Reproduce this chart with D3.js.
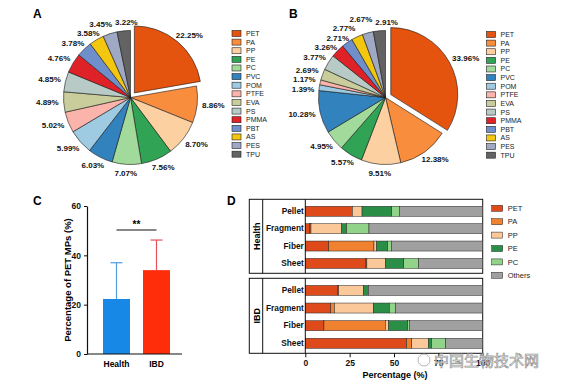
<!DOCTYPE html>
<html>
<head>
<meta charset="utf-8">
<script src="https://cdn.jsdelivr.net/npm/d3@7"></script>
<style>
  body { margin: 0; background: #fff; }
  svg { display: block; font-family: Arial, "Liberation Sans", Helvetica, sans-serif; }
  .panel-tag { font-size: 12px; font-weight: bold; }
  .pie-label { font-size: 8px; font-weight: bold; fill: #111; }
  .legend-label { font-size: 7px; fill: #222; }
  .axis text { font-size: 8.5px; font-weight: bold; fill: #111; }
  .axis path, .axis line { stroke: #111; }
</style>
</head>
<body>
<div id="chart"></div>
<script>
// ---- data ----
const polymerTypes = ['PET', 'PA', 'PP', 'PE', 'PC', 'PVC', 'POM', 'PTFE', 'EVA', 'PS', 'PMMA', 'PBT', 'AS', 'PES', 'TPU'];
const healthShares = [22.25, 8.86, 8.70, 7.56, 7.07, 6.03, 5.99, 5.02, 4.89, 4.85, 4.76, 3.78, 3.58, 3.45, 3.22];
const ibdShares = [33.96, 12.38, 9.51, 5.57, 4.95, 10.28, 1.39, 1.17, 2.69, 3.77, 3.26, 2.71, 2.77, 2.67, 2.91];

const groups = ['Health', 'IBD'];
const petMean = [22.3, 34.0];
const petSd = [14.7, 12.2];
const petTicks = [0, 20, 40, 60];

const shapes = ['Pellet', 'Fragment', 'Fiber', 'Sheet'];
const stackTypes = ['PET', 'PA', 'PP', 'PE', 'PC', 'Others'];
// one row per shape, values in stackTypes order
const healthPellet = [26.5, 0, 5.5, 16.7, 4.3, 47.0];
const healthFragment = [2.6, 0.6, 17.3, 2.8, 12.6, 64.1];
const healthFiber = [13.2, 25.5, 1.5, 6.2, 2.1, 51.5];
const healthSheet = [34.2, 0.5, 10.4, 10.4, 8.4, 36.1];
const ibdPellet = [18.2, 0.6, 13.9, 2.8, 0, 64.5];
const ibdFragment = [14.3, 2.1, 21.9, 9.1, 3.4, 49.2];
const ibdFiber = [10.5, 34.6, 1.9, 10.7, 0.9, 41.4];
const ibdSheet = [57.1, 2.9, 9.4, 1.8, 7.9, 20.9];
const pctTicks = [0, 25, 50, 75, 100];

// ---- styling ----
const pieColors = ['#e5540f', '#f98d3e', '#fdd0a2', '#30a354', '#a2da9b', '#3282bd', '#9ecae2',
  '#fbb4ab', '#c9cc9b', '#b7cac6', '#de2228', '#6e8fcb', '#f3c60f', '#9fa9c4', '#636363'];
const stackColors = ['#df4a1b', '#f0812e', '#fbc89a', '#2a8e46', '#92d38a', '#a0a0a0'];

const width = 568, height = 386;
const svg = d3.select('#chart').append('svg')
  .attr('width', width).attr('height', height)
  .attr('viewBox', [0, 0, width, height]);

svg.append('text').attr('class', 'panel-tag').attr('x', 33).attr('y', 18).text('A');
svg.append('text').attr('class', 'panel-tag').attr('x', 289).attr('y', 18).text('B');
svg.append('text').attr('class', 'panel-tag').attr('x', 33).attr('y', 205).text('C');
svg.append('text').attr('class', 'panel-tag').attr('x', 227).attr('y', 205).text('D');

// ---------- pies (A, B) ----------
function drawPie(shares, cx, cy, legendX, legendY) {
  const r = 67, labelR = 72, explode = 6;
  const g = svg.append('g');
  const arcs = d3.pie().sort(null).value(d => d.v)(shares.map((v, i) => ({ type: polymerTypes[i], v })));
  const arc = d3.arc().innerRadius(0).outerRadius(r);
  const mid = a => (a.startAngle + a.endAngle) / 2;

  g.selectAll('path')
    .data(arcs)
    .join('path')
      .attr('d', arc)
      .attr('transform', (a, i) => {
        const off = i === 0 ? explode : 0;
        return `translate(${cx + Math.sin(mid(a)) * off},${cy - Math.cos(mid(a)) * off})`;
      })
      .attr('fill', (a, i) => pieColors[i])
      .attr('stroke', '#1a1a1a')
      .attr('stroke-width', 0.6);

  const labels = g.selectAll('text.pie-label')
    .data(arcs)
    .join('text')
      .attr('class', 'pie-label')
      .attr('text-anchor', 'middle')
      .attr('dy', '0.35em')
      .text(a => a.data.v.toFixed(2) + '%');

  // place each label just outside its slice, then nudge crowded ones apart
  const pos = [];
  labels.each(function (a, i) {
    const w = this.getComputedTextLength(), h = 8;
    const s = Math.sin(mid(a)), c = Math.cos(mid(a));
    const rr = labelR + (i === 0 ? explode : 0);
    pos.push({ node: this, s, c, w, x: cx + rr * s + s * w / 2, y: cy - rr * c - c * h / 2 });
  });
  for (let k = 0; k < 40; k++) {
    // labels near the top: spread sideways
    const row = pos.filter(p => p.c > 0.88).sort((a, b) => a.x - b.x);
    for (let i = 1; i < row.length; i++) {
      const need = (row[i].w + row[i - 1].w) / 2 + 3;
      const gap = row[i].x - row[i - 1].x;
      if (gap < need && Math.abs(row[i].y - row[i - 1].y) < 6.5) {
        row[i].x += (need - gap) / 2;
        row[i - 1].x -= (need - gap) / 2;
      }
    }
    // anything else still touching: spread vertically
    const col = pos.slice().sort((a, b) => a.y - b.y);
    for (let i = 0; i < col.length; i++) {
      for (let j = i + 1; j < col.length; j++) {
        const a = col[i], b = col[j];
        const dx = Math.abs(a.x - b.x), dy = b.y - a.y;
        if (dx < (a.w + b.w) / 2 + 2 && dy < 9.5) {
          a.y -= (9.5 - dy) / 2;
          b.y += (9.5 - dy) / 2;
        }
      }
    }
  }
  pos.forEach(p => d3.select(p.node).attr('x', p.x).attr('y', p.y));

  const step = 8.62;
  const leg = g.selectAll('g.leg')
    .data(polymerTypes)
    .join('g')
      .attr('class', 'leg')
      .attr('transform', (d, i) => `translate(${legendX},${legendY + i * step})`);
  leg.append('rect')
    .attr('x', 0).attr('y', -3).attr('width', 9).attr('height', 6)
    .attr('fill', (d, i) => pieColors[i])
    .attr('stroke', '#222').attr('stroke-width', 0.6);
  leg.append('text')
    .attr('class', 'legend-label')
    .attr('x', 14).attr('dy', '0.35em')
    .text(d => d);
}

drawPie(healthShares, 130.5, 97.5, 232, 33.5);
drawPie(ibdShares, 385.5, 97.5, 486.5, 34.5);

// ---------- bar chart (C) ----------
const cY = d3.scaleLinear().domain([0, 60]).range([354, 206]);
const cX = d3.scalePoint().domain(groups).range([116.5, 156.5]);
const cBarW = 27;
const cFill = ['#1788e5', '#ff2d0a'];
const cErr = ['#4f9ee0', '#e8505a'];
const cG = svg.append('g');

const cBars = cG.selectAll('g.bar')
  .data(groups)
  .join('g')
    .attr('class', 'bar');
cBars.append('line')
  .attr('x1', d => cX(d)).attr('x2', d => cX(d))
  .attr('y1', (d, i) => cY(petMean[i])).attr('y2', (d, i) => cY(petMean[i] + petSd[i]))
  .attr('stroke', (d, i) => cErr[i]).attr('stroke-width', 1.2);
cBars.append('line')
  .attr('x1', d => cX(d) - 6).attr('x2', d => cX(d) + 6)
  .attr('y1', (d, i) => cY(petMean[i] + petSd[i])).attr('y2', (d, i) => cY(petMean[i] + petSd[i]))
  .attr('stroke', (d, i) => cErr[i]).attr('stroke-width', 1.2);
cBars.append('rect')
  .attr('x', d => cX(d) - cBarW / 2)
  .attr('width', cBarW)
  .attr('y', (d, i) => cY(petMean[i]))
  .attr('height', (d, i) => cY(0) - cY(petMean[i]))
  .attr('fill', (d, i) => cFill[i]);

cG.append('g')
  .attr('class', 'axis')
  .attr('transform', 'translate(87,0)')
  .call(d3.axisLeft(cY).tickValues(petTicks).tickSize(3).tickSizeOuter(0))
  .call(a => a.select('.domain').attr('stroke-width', 1.2));
cG.append('line')
  .attr('x1', 87).attr('x2', 182).attr('y1', cY(0)).attr('y2', cY(0))
  .attr('stroke', '#111').attr('stroke-width', 1.2);
cG.selectAll('text.grp')
  .data(groups)
  .join('text')
    .attr('class', 'grp')
    .attr('x', d => cX(d)).attr('y', 367)
    .attr('text-anchor', 'middle')
    .style('font-size', '8.5px').style('font-weight', 'bold')
    .text(d => d);
cG.append('text')
  .attr('transform', 'translate(71,280) rotate(-90)')
  .attr('text-anchor', 'middle')
  .style('font-size', '9.5px').style('font-weight', 'bold')
  .text('Percentage of PET MPs (%)');
// significance bracket
cG.append('line')
  .attr('x1', cX('Health')).attr('x2', cX('IBD')).attr('y1', 230).attr('y2', 230)
  .attr('stroke', '#111').attr('stroke-width', 1);
cG.append('text')
  .attr('x', (cX('Health') + cX('IBD')) / 2).attr('y', 228)
  .attr('text-anchor', 'middle')
  .style('font-size', '10px').style('font-weight', 'bold')
  .text('**');

// ---------- stacked bars (D) ----------
const dX = d3.scaleLinear().domain([0, 100]).range([305.3, 482.7]);
const dPanels = [
  { name: 'Health', rows: [healthPellet, healthFragment, healthFiber, healthSheet], top: 199.3, bottom: 273.3 },
  { name: 'IBD', rows: [ibdPellet, ibdFragment, ibdFiber, ibdSheet], top: 278.3, bottom: 353.3 }
];
const stackGen = d3.stack().keys(stackTypes);

dPanels.forEach(p => {
  const g = svg.append('g');
  const y = d3.scaleBand().domain(shapes).range([p.top + 3.3, p.bottom - 1.2]);
  const table = p.rows.map((vals, i) => {
    const o = { shape: shapes[i] };
    stackTypes.forEach((k, j) => { o[k] = vals[j]; });
    return o;
  });
  const series = stackGen(table);

  // frame with strip label column
  g.append('rect')
    .attr('x', 249.3).attr('y', p.top)
    .attr('width', dX(100) - 249.3).attr('height', p.bottom - p.top)
    .attr('fill', 'none').attr('stroke', '#111').attr('stroke-width', 1);
  g.append('line')
    .attr('x1', 262.7).attr('x2', 262.7).attr('y1', p.top).attr('y2', p.bottom)
    .attr('stroke', '#111').attr('stroke-width', 1);
  g.append('text')
    .attr('transform', `translate(259.5,${(p.top + p.bottom) / 2}) rotate(-90)`)
    .attr('text-anchor', 'middle')
    .style('font-size', '9px').style('font-weight', 'bold')
    .text(p.name);

  g.selectAll('g.series')
    .data(series)
    .join('g')
      .attr('class', 'series')
      .attr('fill', (s, i) => stackColors[i])
    .selectAll('rect')
    .data(s => s.filter(d => d[1] > d[0]))
    .join('rect')
      .attr('x', d => dX(d[0]))
      .attr('width', d => dX(d[1]) - dX(d[0]))
      .attr('y', d => y(d.data.shape) + y.bandwidth() / 2 - 5)
      .attr('height', 10)
      .attr('stroke', '#222').attr('stroke-width', 0.5);

  g.append('g')
    .attr('class', 'axis')
    .attr('transform', `translate(${dX(0)},0)`)
    .call(d3.axisLeft(y).tickSize(0).tickPadding(1.5).tickSizeOuter(0))
    .call(a => a.select('.domain').attr('d', `M0,${p.top}V${p.bottom}`))
    .call(a => a.selectAll('text').style('font-size', '8.3px'));
});

svg.append('g')
  .attr('class', 'axis')
  .attr('transform', 'translate(0,353.3)')
  .call(d3.axisBottom(dX).tickValues(pctTicks).tickSize(4).tickSizeOuter(0))
  .call(a => a.select('.domain').remove());
svg.append('text')
  .attr('x', 395).attr('y', 378)
  .attr('text-anchor', 'middle')
  .style('font-size', '9px').style('font-weight', 'bold')
  .text('Percentage (%)');

const stackLegend = svg.append('g')
  .selectAll('g')
  .data(stackTypes)
  .join('g')
    .attr('transform', (d, i) => `translate(491.7,${208.3 + i * 13.4})`);
stackLegend.append('rect')
  .attr('x', 0).attr('y', -3).attr('width', 11).attr('height', 6)
  .attr('fill', (d, i) => stackColors[i])
  .attr('stroke', '#222').attr('stroke-width', 0.5);
stackLegend.append('text')
  .attr('x', 16).attr('dy', '0.35em')
  .style('font-size', '7.5px').style('fill', '#222')
  .text(d => d);

// source watermark over the lower right corner
const wm = svg.append('g').attr('opacity', 0.9);
wm.append('circle').attr('cx', 424).attr('cy', 360).attr('r', 6)
  .attr('fill', '#fff').attr('stroke', '#999').attr('stroke-width', 0.8);
wm.append('text')
  .attr('x', 434).attr('y', 366)
  .style('font-family', '"Noto Sans CJK SC", sans-serif')
  .style('font-size', '15px')
  .attr('fill', '#fff').attr('stroke', '#8a8a8a').attr('stroke-width', 0.7)
  .text('中国生物技术网');
</script>
</body>
</html>
